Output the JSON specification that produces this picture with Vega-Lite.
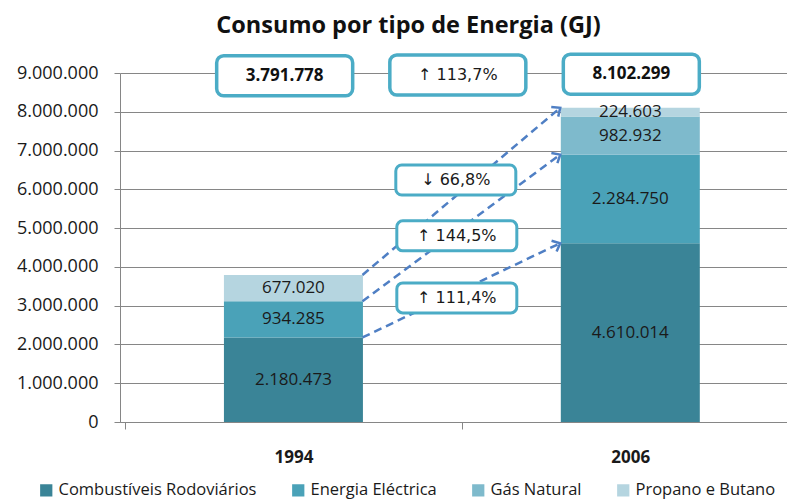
{
  "$schema": "https://vega.github.io/schema/vega-lite/v6.json",
  "width": 667,
  "height": 349,
  "autosize": "none",
  "padding": {"left": 120, "top": 73, "right": 0, "bottom": 79},
  "background": "white",
  "config": {
    "locale": {"number": {"decimal": ",", "thousands": ".", "grouping": [3], "currency": ["", " €"]}},
    "view": {"stroke": null},
    "font": "Open Sans",
    "axisX": {
      "title": null,
      "grid": false,
      "tickSize": 7,
      "tickColor": "#868686",
      "domainColor": "#868686",
      "labelFont": "Open Sans",
      "labelFontSize": 17,
      "labelFontWeight": "bold",
      "labelColor": "#1a1a1a",
      "labelPadding": 20
    },
    "axisY": {
      "title": null,
      "labelOverlap": false,
      "tickSize": 6,
      "tickColor": "#868686",
      "domainColor": "#868686",
      "gridColor": "#868686",
      "labelFont": "Open Sans",
      "labelFontSize": 18,
      "labelColor": "#1a1a1a",
      "labelPadding": 16
    }
  },
  "title": {
    "text": "Consumo por tipo de Energia (GJ)",
    "font": "Open Sans",
    "fontSize": 23.5,
    "fontWeight": "bold",
    "color": "#111111",
    "anchor": "middle",
    "dx": -45,
    "offset": 15
  },
  "datasets": {
    "consumo": [
      {"ano": "1994", "pos": 0.5, "tipo": "Combustíveis Rodoviários", "valor": 2180473},
      {"ano": "1994", "pos": 0.5, "tipo": "Energia Eléctrica", "valor": 934285},
      {"ano": "1994", "pos": 0.5, "tipo": "Propano e Butano", "valor": 677020},
      {"ano": "2006", "pos": 1.5, "tipo": "Combustíveis Rodoviários", "valor": 4610014},
      {"ano": "2006", "pos": 1.5, "tipo": "Energia Eléctrica", "valor": 2284750},
      {"ano": "2006", "pos": 1.5, "tipo": "Gás Natural", "valor": 982932},
      {"ano": "2006", "pos": 1.5, "tipo": "Propano e Butano", "valor": 224603}
    ],
    "setas": [
      {"serie": "Combustíveis Rodoviários", "x0": 0.705, "y0": 2180473, "x1": 1.292, "y1": 4610014},
      {"serie": "Energia Eléctrica", "x0": 0.705, "y0": 3114758, "x1": 1.292, "y1": 6894764},
      {"serie": "Total", "x0": 0.705, "y0": 3791778, "x1": 1.292, "y1": 8102299}
    ],
    "caixas": [
      {"texto": "3.791.778", "x": 0.474, "y": 8930000, "grupo": "topo", "negrito": true},
      {"texto": "↑ 113,7%", "x": 0.988, "y": 8950000, "grupo": "topo", "negrito": false},
      {"texto": "8.102.299", "x": 1.503, "y": 8970000, "grupo": "topo", "negrito": true},
      {"texto": "↓ 66,8%", "x": 0.982, "y": 6240000, "grupo": "meio", "negrito": false},
      {"texto": "↑ 144,5%", "x": 0.985, "y": 4800000, "grupo": "meio", "negrito": false},
      {"texto": "↑ 111,4%", "x": 0.985, "y": 3200000, "grupo": "meio", "negrito": false}
    ]
  },
  "layer": [
    {
      "data": {"name": "consumo"},
      "mark": {"type": "bar", "width": 139},
      "encoding": {
        "x": {
          "field": "pos", "type": "quantitative",
          "scale": {"domain": [0, 1.9503], "nice": false, "zero": false},
          "axis": {
            "values": [0, 0.5, 1, 1.5],
            "labelExpr": "datum.value == 0.5 ? '1994' : datum.value == 1.5 ? '2006' : ''",
            "tickOpacity": {"condition": {"test": "datum.value == 0.5 || datum.value == 1.5", "value": 0}, "value": 1}
          }
        },
        "y": {
          "field": "valor", "type": "quantitative", "stack": "zero",
          "scale": {"domain": [0, 9000000], "nice": false},
          "axis": {
            "values": [0, 1000000, 2000000, 3000000, 4000000, 5000000, 6000000, 7000000, 8000000, 9000000],
            "format": ",d"
          }
        },
        "order": {"field": "tipo", "sort": "ascending"},
        "color": {
          "field": "tipo", "type": "nominal",
          "scale": {
            "domain": ["Combustíveis Rodoviários", "Energia Eléctrica", "Gás Natural", "Propano e Butano"],
            "range": ["#3A8497", "#4AA2B8", "#7EBACC", "#B5D5E0"]
          },
          "legend": {
            "title": null,
            "orient": "none",
            "legendX": -82,
            "legendY": 409,
            "direction": "horizontal",
            "symbolType": "square",
            "symbolSize": 150,
            "symbolStrokeWidth": 0,
            "labelFont": "Open Sans",
            "labelFontSize": 16.5,
            "labelLimit": 400,
            "labelColor": "#1a1a1a",
            "labelOffset": 4,
            "columnPadding": 33
          }
        }
      }
    },
    {
      "data": {"name": "consumo"},
      "mark": {"type": "text", "font": "Open Sans", "fontSize": 17, "color": "#1a1a1a"},
      "encoding": {
        "x": {"field": "pos", "type": "quantitative", "axis": {"values": [0, 0.5, 1, 1.5], "labelExpr": "datum.value == 0.5 ? '1994' : datum.value == 1.5 ? '2006' : ''", "tickOpacity": {"condition": {"test": "datum.value == 0.5 || datum.value == 1.5", "value": 0}, "value": 1}}},
        "y": {"field": "valor", "type": "quantitative", "stack": "zero", "bandPosition": 0.5, "axis": {"values": [0, 1000000, 2000000, 3000000, 4000000, 5000000, 6000000, 7000000, 8000000, 9000000], "format": ",d"}},
        "order": {"field": "tipo", "sort": "ascending"},
        "detail": {"field": "tipo"},
        "text": {"field": "valor", "type": "quantitative", "format": ",d"}
      }
    },
    {
      "data": {"name": "setas"},
      "mark": {"type": "rule", "color": "#4F7FC4", "strokeWidth": 2.5, "strokeDash": [8, 5]},
      "encoding": {
        "x": {"field": "x0", "type": "quantitative", "axis": {"values": [0, 0.5, 1, 1.5], "labelExpr": "datum.value == 0.5 ? '1994' : datum.value == 1.5 ? '2006' : ''", "tickOpacity": {"condition": {"test": "datum.value == 0.5 || datum.value == 1.5", "value": 0}, "value": 1}}},
        "y": {"field": "y0", "type": "quantitative", "axis": {"values": [0, 1000000, 2000000, 3000000, 4000000, 5000000, 6000000, 7000000, 8000000, 9000000], "format": ",d"}},
        "x2": {"field": "x1"},
        "y2": {"field": "y1"}
      }
    },
    {
      "data": {"name": "setas"},
      "mark": {"type": "point", "shape": "M-0.7,0.8L0,0L0.7,0.8", "filled": false, "color": "#4F7FC4", "strokeWidth": 2.5, "size": 289, "opacity": 1},
      "encoding": {
        "x": {"field": "x1", "type": "quantitative", "axis": {"values": [0, 0.5, 1, 1.5], "labelExpr": "datum.value == 0.5 ? '1994' : datum.value == 1.5 ? '2006' : ''", "tickOpacity": {"condition": {"test": "datum.value == 0.5 || datum.value == 1.5", "value": 0}, "value": 1}}},
        "y": {"field": "y1", "type": "quantitative", "axis": {"values": [0, 1000000, 2000000, 3000000, 4000000, 5000000, 6000000, 7000000, 8000000, 9000000], "format": ",d"}},
        "angle": {
          "field": "serie", "type": "nominal",
          "scale": {"domain": ["Combustíveis Rodoviários", "Energia Eléctrica", "Total"], "range": [65, 54, 50.4]},
          "legend": null
        }
      }
    },
    {
      "data": {"name": "caixas"},
      "transform": [{"filter": "datum.grupo == 'topo'"}],
      "mark": {"type": "rect", "width": 136, "height": 40, "cornerRadius": 7, "fill": "white", "stroke": "#4BACC6", "strokeWidth": 3.5},
      "encoding": {
        "x": {"field": "x", "type": "quantitative", "axis": {"values": [0, 0.5, 1, 1.5], "labelExpr": "datum.value == 0.5 ? '1994' : datum.value == 1.5 ? '2006' : ''", "tickOpacity": {"condition": {"test": "datum.value == 0.5 || datum.value == 1.5", "value": 0}, "value": 1}}},
        "y": {"field": "y", "type": "quantitative", "axis": {"values": [0, 1000000, 2000000, 3000000, 4000000, 5000000, 6000000, 7000000, 8000000, 9000000], "format": ",d"}}
      }
    },
    {
      "data": {"name": "caixas"},
      "transform": [{"filter": "datum.grupo == 'meio'"}],
      "mark": {"type": "rect", "width": 120, "height": 30, "cornerRadius": 6, "fill": "white", "stroke": "#4BACC6", "strokeWidth": 3},
      "encoding": {
        "x": {"field": "x", "type": "quantitative", "axis": {"values": [0, 0.5, 1, 1.5], "labelExpr": "datum.value == 0.5 ? '1994' : datum.value == 1.5 ? '2006' : ''", "tickOpacity": {"condition": {"test": "datum.value == 0.5 || datum.value == 1.5", "value": 0}, "value": 1}}},
        "y": {"field": "y", "type": "quantitative", "axis": {"values": [0, 1000000, 2000000, 3000000, 4000000, 5000000, 6000000, 7000000, 8000000, 9000000], "format": ",d"}}
      }
    },
    {
      "data": {"name": "caixas"},
      "transform": [{"filter": "datum.negrito"}],
      "mark": {"type": "text", "font": "Open Sans", "fontSize": 17, "fontWeight": "bold", "color": "#111111"},
      "encoding": {
        "x": {"field": "x", "type": "quantitative", "axis": {"values": [0, 0.5, 1, 1.5], "labelExpr": "datum.value == 0.5 ? '1994' : datum.value == 1.5 ? '2006' : ''", "tickOpacity": {"condition": {"test": "datum.value == 0.5 || datum.value == 1.5", "value": 0}, "value": 1}}},
        "y": {"field": "y", "type": "quantitative", "axis": {"values": [0, 1000000, 2000000, 3000000, 4000000, 5000000, 6000000, 7000000, 8000000, 9000000], "format": ",d"}},
        "text": {"field": "texto"}
      }
    },
    {
      "data": {"name": "caixas"},
      "transform": [{"filter": "!datum.negrito"}],
      "mark": {"type": "text", "font": "DejaVu Sans", "fontSize": 16, "color": "#1a1a1a"},
      "encoding": {
        "x": {"field": "x", "type": "quantitative", "axis": {"values": [0, 0.5, 1, 1.5], "labelExpr": "datum.value == 0.5 ? '1994' : datum.value == 1.5 ? '2006' : ''", "tickOpacity": {"condition": {"test": "datum.value == 0.5 || datum.value == 1.5", "value": 0}, "value": 1}}},
        "y": {"field": "y", "type": "quantitative", "axis": {"values": [0, 1000000, 2000000, 3000000, 4000000, 5000000, 6000000, 7000000, 8000000, 9000000], "format": ",d"}},
        "text": {"field": "texto"}
      }
    }
  ]
}
